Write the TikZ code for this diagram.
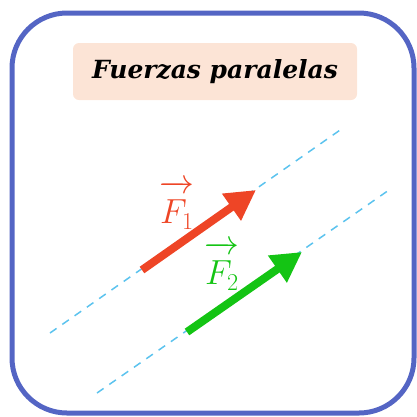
\documentclass[tikz,border=0pt]{standalone}
\usepackage{fontspec}
\usepackage{amsmath}
\newfontfamily\titlefont{DejaVu Serif}
\usetikzlibrary{arrows.meta, positioning}
\definecolor{frameblue}{HTML}{5465C4}
\definecolor{titlefill}{HTML}{FCE4D6}
\definecolor{forcered}{HTML}{EE4526}
\definecolor{forcegreen}{HTML}{14C414}
\definecolor{lineblue}{HTML}{5CC3EE}
\tikzstyle{force} = [line width=8pt, -{Triangle[length=30pt,width=31pt]}]
\tikzstyle{actionline} = [lineblue, line width=1.5pt, dash pattern=on 8pt off 7pt]
\newcommand{\forcevec}[1]{\overrightarrow{\rule{0pt}{0.9em}#1}}

\begin{document}
\begin{tikzpicture}[
    x=1pt, y=-1pt,
    titlebox/.style={rectangle, fill=titlefill, rounded corners=6pt, minimum width=284pt, minimum height=57pt, font=\titlefont\bfseries\itshape\fontsize{25}{30}\selectfont},
    forcelabel/.style={inner sep=0pt, scale=1.4, font=\fontsize{24}{28}\selectfont}
  ]
    \useasboundingbox (0,0) rectangle (417,416);

    % Frame
    \draw[frameblue, line width=5pt, rounded corners=55pt] (12,13) rectangle (414,413);
    \node[titlebox] (title) at (215,71.5) {Fuerzas paralelas};

    % Lines of action
    \coordinate (l1a) at (50,333);
    \coordinate (l1b) at (343,128);
    \coordinate (l2a) at (97,393);
    \coordinate (l2b) at (389,190);
    \draw[actionline] (l1a) -- (l1b);
    \draw[actionline] (l2a) -- (l2b);

    % Force 1
    \coordinate (f1tail) at (142,270);
    \coordinate (f1tip) at (256,190);
    \draw[force, forcered] (f1tail) -- (f1tip);
    \node[forcelabel, text=forcered] (F1lbl) at (177,205) {$\forcevec{F_1}$};

    % Force 2
    \coordinate (f2tail) at (187,332);
    \coordinate (f2tip) at (302,252);
    \draw[force, forcegreen] (f2tail) -- (f2tip);
    \node[forcelabel, text=forcegreen] (F2lbl) at (222,266) {$\forcevec{F_2}$};
\end{tikzpicture}
\end{document}
